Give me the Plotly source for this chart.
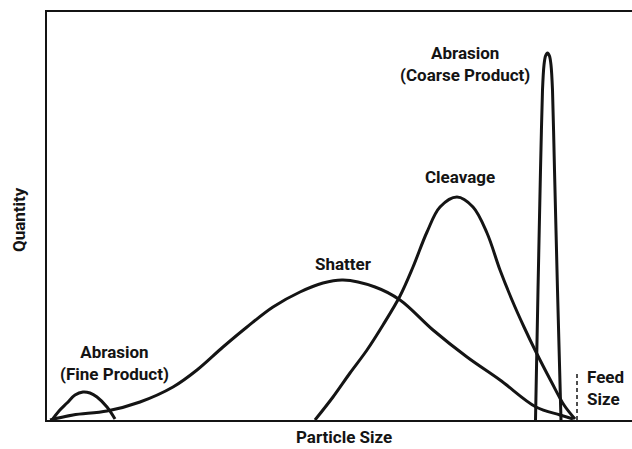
import plotly.graph_objects as go

# curve samples (x = particle size, y = quantity, arbitrary units)
fine_x = [5, 12, 20, 28, 36, 43, 50, 60, 68]
fine_y = [0, 9, 17, 25, 28, 27, 23, 13, 1]

shatter_x = [3, 26, 60, 93, 126, 150, 176, 200, 226, 253, 276, 296, 328, 353, 386, 420, 453, 489, 513, 526]
shatter_y = [0, 5, 9, 18, 33, 50, 73, 93, 113, 128, 137, 140, 133, 120, 90, 63, 40, 13, 5, 1]

cleavage_x = [268, 286, 303, 320, 336, 353, 366, 380, 393, 410, 426, 440, 453, 465, 477, 489, 505, 517, 528]
cleavage_y = [0, 23, 47, 70, 95, 124, 153, 188, 213, 223, 213, 187, 150, 120, 93, 68, 37, 15, 1]

coarse_x = [488.5, 491, 493.5, 495.5, 497, 498.5, 500.5, 502.5, 504, 505.5, 507.5, 510.5, 514]
coarse_y = [0, 130, 250, 330, 355, 364, 367, 364, 355, 330, 250, 130, 0]

feed_x = [530, 530]
feed_y = [0, 49]

FONT = "Roboto, Liberation Sans, sans-serif"
INK = "#141414"

fig = go.Figure()
for xs, ys in [(fine_x, fine_y), (shatter_x, shatter_y), (cleavage_x, cleavage_y)]:
    fig.add_trace(go.Scatter(x=xs, y=ys, mode="lines", line=dict(color=INK, width=3, shape="spline", smoothing=1),
                             hoverinfo="skip", cliponaxis=False))
fig.add_trace(go.Scatter(x=coarse_x, y=coarse_y, mode="lines", line=dict(color=INK, width=3, shape="spline", smoothing=0.5),
                         hoverinfo="skip", cliponaxis=False))
fig.add_trace(go.Scatter(x=feed_x, y=feed_y, mode="lines", line=dict(color=INK, width=1.5, dash="4px,3px"),
                         hoverinfo="skip", cliponaxis=False))

labels = [
    ("Abrasion<br>(Coarse Product)", 417.5, 356),
    ("Cleavage", 413, 243),
    ("Shatter", 296.5, 156),
    ("Abrasion<br>(Fine Product)", 67, 57.5),
]
for text, x, y in labels:
    fig.add_annotation(x=x, y=y, xref="x", yref="y", text=text, showarrow=False, align="center",
                       font=dict(family=FONT, size=17, color=INK, weight=700))
fig.add_annotation(x=538, y=32, xref="x", yref="y", text="Feed<br>Size", showarrow=False, align="left",
                   xanchor="left", font=dict(family=FONT, size=17, color=INK, weight=700))

fig.add_annotation(x=0.508, y=0, xref="paper", yref="paper", yshift=-29, yanchor="bottom", text="Particle Size",
                   showarrow=False, font=dict(family=FONT, size=17, color=INK, weight=700))
fig.add_annotation(x=0, y=0.49, xref="paper", yref="paper", xshift=-28, xanchor="center", text="Quantity",
                   textangle=-90, showarrow=False, font=dict(family=FONT, size=17, color=INK, weight=700))

fig.update_layout(width=632, height=449, margin=dict(l=47, r=0, t=12, b=29),
                  paper_bgcolor="white", plot_bgcolor="white", showlegend=False)
fig.update_xaxes(range=[0, 585], showgrid=False, zeroline=False, showticklabels=False, ticks="",
                 showline=True, linecolor=INK, linewidth=2, mirror=True)
fig.update_yaxes(range=[0, 408], showgrid=False, zeroline=False, showticklabels=False, ticks="",
                 showline=True, linecolor=INK, linewidth=2)

# drop the default 8px page margin so the figure fills the window exactly
fig.write_html("out.html", config={"displayModeBar": False},
               post_script="document.body.style.margin='0';document.body.style.overflow='hidden';")
